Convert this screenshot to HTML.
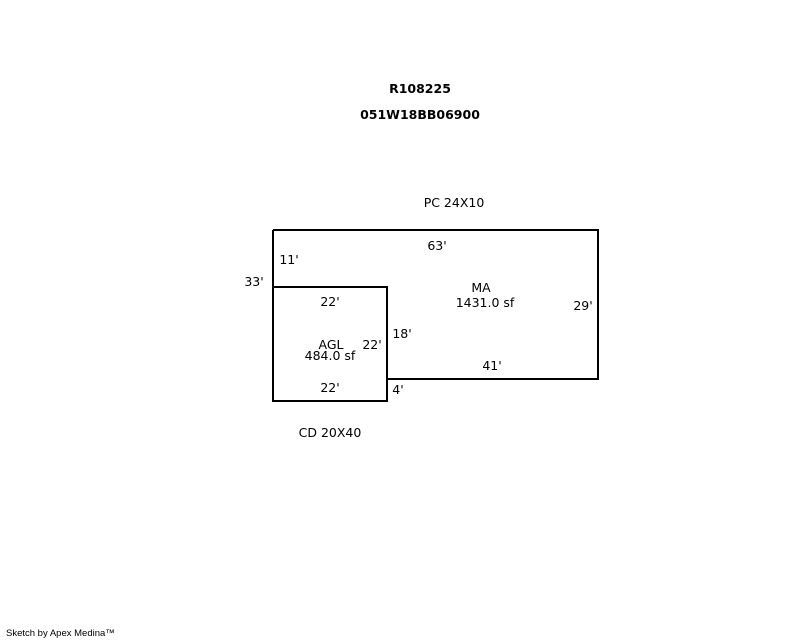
<!DOCTYPE html>
<html><head><meta charset="utf-8"><style>
html,body{margin:0;padding:0;background:#fff;}
svg{display:block;}
text{font-family:"DejaVu Sans","Liberation Sans",sans-serif;font-size:12.5px;fill:#000;}
.b{font-weight:bold;}
</style></head><body>
<svg width="800" height="640" xmlns="http://www.w3.org/2000/svg">
<text x="420" y="93" class="b" text-anchor="middle">R108225</text>
<text x="420" y="119" class="b" text-anchor="middle">051W18BB06900</text>
<text x="454" y="207" text-anchor="middle">PC 24X10</text>
<path d="M273 230 H598 V379 H387" fill="none" stroke="#000" stroke-width="2"/>
<path d="M273 230 V401 H387 V287 H273" fill="none" stroke="#000" stroke-width="2"/>
<text x="437" y="250" text-anchor="middle">63'</text>
<text x="289" y="264" text-anchor="middle">11'</text>
<text x="254" y="286" text-anchor="middle">33'</text>
<text x="481" y="292" text-anchor="middle">MA</text>
<text x="485" y="307" text-anchor="middle">1431.0 sf</text>
<text x="583" y="310" text-anchor="middle">29'</text>
<text x="330" y="306" text-anchor="middle">22'</text>
<text x="402" y="338" text-anchor="middle">18'</text>
<text x="331" y="349" text-anchor="middle">AGL</text>
<text x="372" y="349" text-anchor="middle">22'</text>
<text x="330" y="360" text-anchor="middle">484.0 sf</text>
<text x="492" y="370" text-anchor="middle">41'</text>
<text x="330" y="392" text-anchor="middle">22'</text>
<text x="398" y="394" text-anchor="middle">4'</text>
<text x="330" y="437" text-anchor="middle">CD 20X40</text>
<text x="6" y="636" style="font-family:'Liberation Sans',sans-serif;font-size:9.5px;">Sketch by Apex Medina™</text>
</svg>
</body></html>
